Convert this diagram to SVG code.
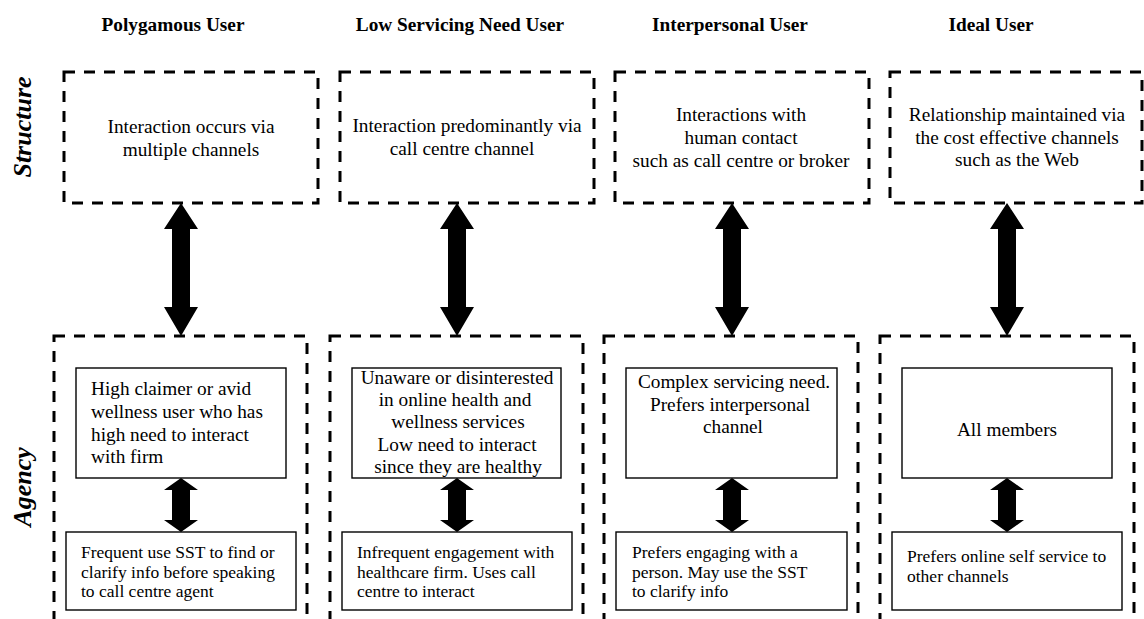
<svg xmlns="http://www.w3.org/2000/svg" width="1144" height="619" viewBox="0 0 1144 619">
  <style>
    .bg { fill: #ffffff; }
    .dash { fill: none; stroke: #000; stroke-width: 3; stroke-dasharray: 11 9; }
    .box { fill: #ffffff; stroke: #000; stroke-width: 1.4; }
    .head { font-family: "Liberation Serif", "Times New Roman", serif; font-weight: bold; font-size: 19.3px; fill: #000; text-anchor: middle; }
    .side { font-family: "Liberation Serif", "Times New Roman", serif; font-weight: bold; font-style: italic; font-size: 26px; fill: #000; text-anchor: middle; }
    .t { font-family: "Liberation Serif", "Times New Roman", serif; font-size: 19.3px; fill: #000; }
    .c { text-anchor: middle; }
    .s { font-family: "Liberation Serif", "Times New Roman", serif; font-size: 17.5px; fill: #000; }
    .arrow { fill: #000; stroke: none; }
  </style>
  <defs>
    <!-- double-headed block arrows, drawn about x = 0 -->
    <polygon id="bigArrow" points="0,203 17,229 9,229 9,307 17,307 0,336 -17,307 -9,307 -9,229 -17,229"/>
    <polygon id="smallArrow" points="0,478 17,490 9,490 9,520 17,520 0,532 -17,520 -9,520 -9,490 -17,490"/>
  </defs>
  <rect class="bg" x="0" y="0" width="1144" height="619"/>

  <!-- row labels -->
  <g id="row-labels">
    <text class="side" transform="translate(31,127) rotate(-90)">Structure</text>
    <text class="side" transform="translate(31,487) rotate(-90)">Agency</text>
  </g>

  <!-- column headings -->
  <g id="headings">
    <text class="head" x="173" y="31">Polygamous User</text>
    <text class="head" x="460" y="31">Low Servicing Need User</text>
    <text class="head" x="730" y="31">Interpersonal User</text>
    <text class="head" x="991" y="31">Ideal User</text>
  </g>

  <!-- connectors -->
  <g id="connectors" class="arrow">
    <use href="#bigArrow" x="181"/>
    <use href="#bigArrow" x="457"/>
    <use href="#bigArrow" x="732"/>
    <use href="#bigArrow" x="1007"/>
    <use href="#smallArrow" x="181"/>
    <use href="#smallArrow" x="457"/>
    <use href="#smallArrow" x="732"/>
    <use href="#smallArrow" x="1007"/>
  </g>

  <!-- structure row -->
  <g id="structure-polygamous">
    <rect class="dash" x="64" y="72" width="254" height="131"/>
    <text class="t c" x="191" y="133">Interaction occurs via</text>
    <text class="t c" x="191" y="156">multiple channels</text>
  </g>
  <g id="structure-low-servicing">
    <rect class="dash" x="340" y="72" width="254" height="131"/>
    <text class="t c" x="467" y="132">Interaction predominantly via</text>
    <text class="t c" x="462" y="155">call centre channel</text>
  </g>
  <g id="structure-interpersonal">
    <rect class="dash" x="615" y="72" width="254" height="131"/>
    <text class="t c" x="741" y="121">Interactions with</text>
    <text class="t c" x="741" y="144">human contact</text>
    <text class="t c" x="741" y="167">such as call centre or broker</text>
  </g>
  <g id="structure-ideal">
    <rect class="dash" x="890" y="72" width="252" height="131"/>
    <text class="t c" x="1017" y="121">Relationship maintained via</text>
    <text class="t c" x="1017" y="144">the cost effective channels</text>
    <text class="t c" x="1017" y="166">such as the Web</text>
  </g>

  <!-- agency row -->
  <g id="agency-polygamous">
    <rect class="dash" x="54" y="336" width="253" height="300"/>
    <rect class="box" x="76" y="368" width="210" height="110"/>
    <text class="t" x="91" y="395">High claimer or avid</text>
    <text class="t" x="91" y="418">wellness user who has</text>
    <text class="t" x="91" y="441">high need to interact</text>
    <text class="t" x="91" y="463">with firm</text>
    <rect class="box" x="66" y="532" width="230" height="78"/>
    <text class="s" x="81" y="558">Frequent use SST to find or</text>
    <text class="s" x="81" y="578">clarify info before speaking</text>
    <text class="s" x="81" y="597">to call centre agent</text>
  </g>
  <g id="agency-low-servicing">
    <rect class="dash" x="330" y="336" width="253" height="300"/>
    <rect class="box" x="352" y="368" width="209" height="110"/>
    <text class="t c" x="457" y="384">Unaware or disinterested</text>
    <text class="t c" x="455" y="406">in online health and</text>
    <text class="t c" x="458" y="428">wellness services</text>
    <text class="t c" x="457" y="451">Low need to interact</text>
    <text class="t c" x="458" y="473">since they are healthy</text>
    <rect class="box" x="342" y="532" width="230" height="78"/>
    <text class="s" x="357" y="558">Infrequent engagement with</text>
    <text class="s" x="357" y="578">healthcare firm. Uses call</text>
    <text class="s" x="357" y="597">centre to interact</text>
  </g>
  <g id="agency-interpersonal">
    <rect class="dash" x="604" y="336" width="254" height="300"/>
    <rect class="box" x="626" y="368" width="211" height="110"/>
    <text class="t c" x="734" y="388">Complex servicing need.</text>
    <text class="t c" x="730" y="411">Prefers interpersonal</text>
    <text class="t c" x="733" y="433">channel</text>
    <rect class="box" x="616" y="532" width="231" height="78"/>
    <text class="s" x="632" y="558">Prefers engaging with a</text>
    <text class="s" x="632" y="578">person. May use the SST</text>
    <text class="s" x="632" y="597">to clarify info</text>
  </g>
  <g id="agency-ideal">
    <rect class="dash" x="880" y="336" width="254" height="300"/>
    <rect class="box" x="902" y="368" width="210" height="110"/>
    <text class="t c" x="1007" y="436">All members</text>
    <rect class="box" x="892" y="532" width="230" height="78"/>
    <text class="s" x="907" y="562">Prefers online self service to</text>
    <text class="s" x="907" y="582">other channels</text>
  </g>
</svg>
